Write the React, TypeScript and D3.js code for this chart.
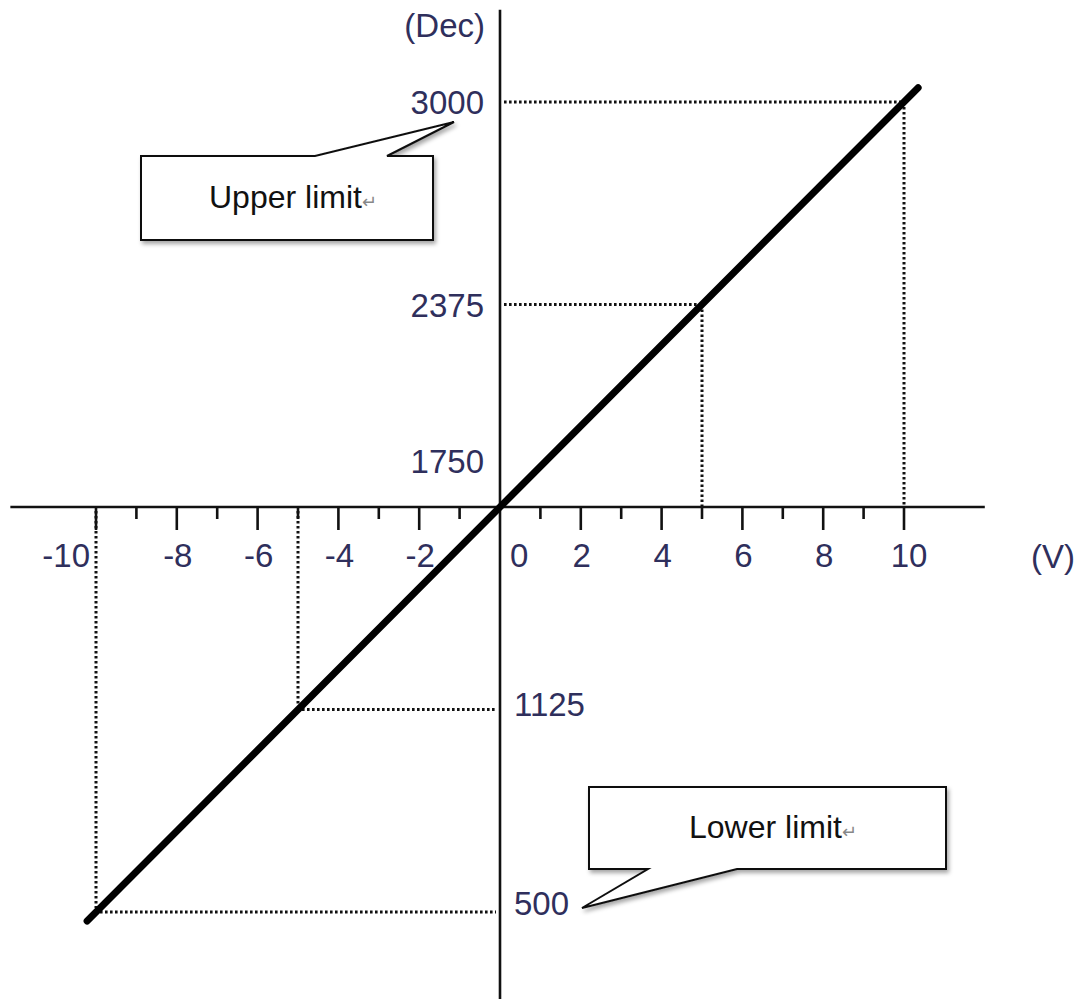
import React from "react";
import * as d3 from "d3";

// ---- data ----
const majorTicks = [-10, -8, -6, -4, -2, 2, 4, 6, 8, 10];
const minorTicks = [-9, -7, -5, -3, -1, 1, 3, 5, 7, 9];
const xTickLabels = [-10, -8, -6, -4, -2, 0, 2, 4, 6, 8, 10];
const yLabelsLeft = [3000, 2375, 1750];
const yLabelsRight = [1125, 500];
const guideV = [10, 5, -5, -10];
const guideDec = [3000, 2375, 1125, 500];
const lineV = [-10.22, 10.35];
const lineDec = [472, 3044];
const xAxisExtent = [-12.12, 12.0];
const yAxisExtent = [230, 3285];
const upperLabel = "Upper limit";
const lowerLabel = "Lower limit";

const W = 1091;
const H = 999;
const FONT = "'Liberation Sans', Arial, sans-serif";
const NUM_COLOR = "#2f2f5c";
const FS = 33;

export default function App() {
  const x = d3.scaleLinear().domain([-10, 10]).range([96, 904]);
  const y = d3.scaleLinear().domain([500, 3000]).range([912, 102]);
  const x0 = x(0);
  const y0 = y(1750);

  const line = d3
    .line<number>()
    .x((_, i) => x(lineV[i]))
    .y((_, i) => y(lineDec[i]));

  const dot = { stroke: "#111", strokeWidth: 3, strokeDasharray: "2.6 2.4", fill: "none" };

  // callouts (annotation geometry relative to axes)
  const up = { x1: 141, y1: 156, x2: 433, y2: 240, tipX: x0 - 46, tipY: y(3000) + 20, b1: 315, b2: 387 };
  const lo = { x1: 589, y1: 787, x2: 946, y2: 869, tipX: x0 + 82, tipY: y(500) - 4, b1: 648, b2: 737 };

  const upperPath = `M${up.x1},${up.y1} L${up.b1},${up.y1} L${up.tipX},${up.tipY} L${up.b2},${up.y1} L${up.x2},${up.y1} L${up.x2},${up.y2} L${up.x1},${up.y2} Z`;
  const lowerPath = `M${lo.x1},${lo.y1} L${lo.x2},${lo.y1} L${lo.x2},${lo.y2} L${lo.b2},${lo.y2} L${lo.tipX},${lo.tipY} L${lo.b1},${lo.y2} L${lo.x1},${lo.y2} Z`;

  return (
    <svg
      width={W}
      height={H}
      viewBox={`0 0 ${W} ${H}`}
      style={{ position: "absolute", left: 0, top: 0, background: "#fff" }}
      fontFamily={FONT}
    >
      <defs>
        <filter id="sh" x="-10%" y="-10%" width="130%" height="140%">
          <feDropShadow dx="2" dy="3" stdDeviation="2" floodColor="#000" floodOpacity="0.35" />
        </filter>
      </defs>
      <rect width={W} height={H} fill="#fff" />

      {/* guide dotted lines */}
      {guideV.map((v, i) => {
        const gx = x(v);
        const gy = y(guideDec[i]);
        return (
          <g key={"g" + i}>
            <line x1={v > 0 ? x0 + 4 : gx + 4} x2={v > 0 ? gx : x0 - 4} y1={gy} y2={gy} {...dot} />
            <line x1={gx} x2={gx} y1={v > 0 ? gy : y0 + 4} y2={v > 0 ? y0 : gy - 4} {...dot} />
          </g>
        );
      })}

      {/* axes */}
      <line x1={x(xAxisExtent[0])} x2={x(xAxisExtent[1])} y1={y0} y2={y0} stroke="#111" strokeWidth={2.6} />
      <line x1={x0} x2={x0} y1={y(yAxisExtent[1])} y2={y(yAxisExtent[0])} stroke="#111" strokeWidth={2.6} />

      {majorTicks.map((v) => (
        <line key={"M" + v} x1={x(v)} x2={x(v)} y1={y0} y2={y0 + 23} stroke="#111" strokeWidth={2.6} />
      ))}
      {minorTicks.map((v) => (
        <line key={"m" + v} x1={x(v)} x2={x(v)} y1={y0} y2={y0 + 12} stroke="#111" strokeWidth={2.6} />
      ))}

      {/* x tick labels */}
      {xTickLabels.map((v) => {
        let tx = x(v);
        let anchor: "middle" | "start" | "end" = "middle";
        if (v === 0) {
          tx = x0 + 10;
          anchor = "start";
        } else if (v === -10) {
          tx = x(v) - 6;
          anchor = "end";
        } else if (v === 10) {
          tx = x(v) + 5;
        } else {
          tx = x(v) + 1;
        }
        return (
          <text key={"xl" + v} x={tx} y={y0 + 60} textAnchor={anchor} fontSize={FS} fill={NUM_COLOR}>
            {String(v)}
          </text>
        );
      })}
      <text x={1031} y={y0 + 61} fontSize={FS} fill={NUM_COLOR}>(V)</text>
      <text x={485} y={37} fontSize={FS} fill={NUM_COLOR} textAnchor="end">(Dec)</text>

      {/* y labels */}
      {yLabelsLeft.map((v) => (
        <text
          key={"yl" + v}
          x={484}
          y={v === 1750 ? y0 - 34 : y(v) + 12}
          textAnchor="end"
          fontSize={FS}
          fill={NUM_COLOR}
        >
          {String(v)}
        </text>
      ))}
      {yLabelsRight.map((v) => (
        <text
          key={"yr" + v}
          x={x0 + 14}
          y={v === 500 ? y(v) + 3 : y(v) + 6}
          textAnchor="start"
          fontSize={FS}
          fill={NUM_COLOR}
        >
          {String(v)}
        </text>
      ))}

      {/* data line */}
      <path d={line(lineV) || ""} stroke="#000" strokeWidth={7} fill="none" strokeLinecap="round" />

      {/* callouts */}
      <path d={upperPath} fill="#fff" stroke="#111" strokeWidth={2} filter="url(#sh)" strokeLinejoin="miter" />
      <text x={209} y={208} fontSize={32} fill="#111">
        {upperLabel}
        <tspan fontSize={18} fill="#888">↵</tspan>
      </text>
      <path d={lowerPath} fill="#fff" stroke="#111" strokeWidth={2} filter="url(#sh)" strokeLinejoin="miter" />
      <text x={689} y={838} fontSize={32} fill="#111">
        {lowerLabel}
        <tspan fontSize={18} fill="#888">↵</tspan>
      </text>
    </svg>
  );
}
